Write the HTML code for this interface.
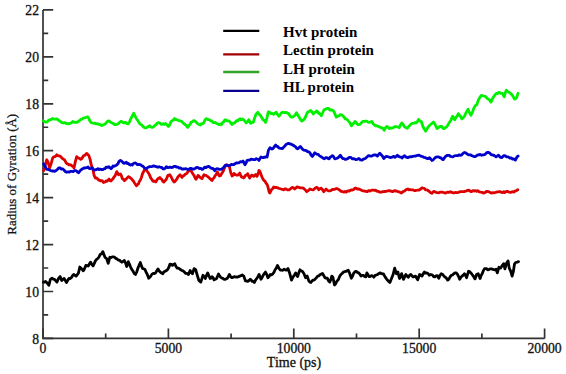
<!DOCTYPE html>
<html><head><meta charset="utf-8"><style>
html,body{margin:0;padding:0;background:#fff;}
body{width:566px;height:374px;overflow:hidden;font-family:"Liberation Serif",serif;}
svg{display:block;}
</style></head><body>
<svg width="566" height="374" viewBox="0 0 566 374"><path d="M43.0,9.95 L43.0,338.4 L544.6,338.4" fill="none" stroke="#333" stroke-width="1.7"/>
<path d="M43.0,338.40 h10.2 M43.0,314.94 h5.2 M43.0,291.48 h10.2 M43.0,268.02 h5.2 M43.0,244.56 h10.2 M43.0,221.10 h5.2 M43.0,197.64 h10.2 M43.0,174.17 h5.2 M43.0,150.71 h10.2 M43.0,127.25 h5.2 M43.0,103.79 h10.2 M43.0,80.33 h5.2 M43.0,56.87 h10.2 M43.0,33.41 h5.2 M43.0,9.95 h10.2 M43.00,338.4 v-9.8 M105.70,338.4 v-5 M168.40,338.4 v-9.8 M231.10,338.4 v-5 M293.80,338.4 v-9.8 M356.50,338.4 v-5 M419.20,338.4 v-9.8 M481.90,338.4 v-5 M544.60,338.4 v-9.8" fill="none" stroke="#333" stroke-width="1.7"/>
<g font-family="Liberation Serif" font-size="13.7" fill="#111" stroke="#111" stroke-width="0.3"><text transform="translate(39.0,343.70) scale(1,1.06)" text-anchor="end">8</text><text transform="translate(39.0,296.78) scale(1,1.06)" text-anchor="end">10</text><text transform="translate(39.0,249.86) scale(1,1.06)" text-anchor="end">12</text><text transform="translate(39.0,202.94) scale(1,1.06)" text-anchor="end">14</text><text transform="translate(39.0,156.01) scale(1,1.06)" text-anchor="end">16</text><text transform="translate(39.0,109.09) scale(1,1.06)" text-anchor="end">18</text><text transform="translate(39.0,62.17) scale(1,1.06)" text-anchor="end">20</text><text transform="translate(39.0,15.25) scale(1,1.06)" text-anchor="end">22</text><text transform="translate(43.00,353.3) scale(1,1.08)" text-anchor="middle">0</text><text transform="translate(168.40,353.3) scale(1,1.08)" text-anchor="middle">5000</text><text transform="translate(293.80,353.3) scale(1,1.08)" text-anchor="middle">10000</text><text transform="translate(419.20,353.3) scale(1,1.08)" text-anchor="middle">15000</text><text transform="translate(544.60,353.3) scale(1,1.08)" text-anchor="middle">20000</text></g>
<text x="294" y="366.7" text-anchor="middle" font-family="Liberation Serif" font-size="14" fill="#111" stroke="#111" stroke-width="0.3">Time (ps)</text>
<text transform="translate(16.2,174.3) rotate(-90)" text-anchor="middle" font-family="Liberation Serif" font-size="13" fill="#111" stroke="#111" stroke-width="0.25">Radius of Gyration (Å)</text>
<path d="M43.5,282.1 L44.5,282.2 L45.6,281.4 L47.2,283.0 L48.8,285.3 L50.4,279.3 L52.0,278.2 L53.2,279.1 L54.4,279.3 L55.6,280.6 L56.9,282.1 L58.5,278.5 L60.1,276.6 L61.7,280.5 L62.9,279.2 L64.1,278.5 L65.3,280.5 L66.5,282.5 L67.7,280.4 L68.9,278.5 L70.1,278.5 L71.3,277.7 L72.5,275.8 L73.7,274.5 L74.9,275.3 L76.1,276.1 L77.3,274.6 L78.5,272.9 L79.8,267.0 L81.4,268.6 L83.3,270.8 L84.5,268.7 L85.8,265.4 L87.0,265.7 L88.2,266.0 L89.4,263.8 L90.6,262.2 L91.8,264.5 L93.0,266.0 L94.2,263.6 L95.4,260.9 L96.6,259.4 L97.8,258.5 L99.0,257.0 L100.2,254.4 L101.6,253.7 L102.9,251.6 L104.0,254.9 L105.0,257.3 L106.6,258.5 L108.2,263.3 L109.8,257.3 L111.0,257.7 L112.2,256.9 L113.4,256.8 L114.6,257.3 L115.8,258.4 L117.0,258.9 L118.2,260.1 L119.4,260.1 L120.7,261.4 L121.9,262.2 L123.1,261.3 L124.3,260.5 L125.5,262.9 L126.7,266.5 L128.3,261.7 L129.5,264.4 L130.7,267.3 L131.9,269.5 L133.1,271.3 L134.3,273.5 L135.5,274.5 L136.7,272.0 L137.9,268.1 L139.1,265.3 L140.3,262.5 L141.5,266.1 L142.7,268.6 L143.9,268.8 L145.1,269.7 L146.1,272.3 L147.1,274.0 L148.7,278.2 L149.8,277.2 L150.8,276.1 L152.0,274.1 L153.2,273.4 L154.4,273.5 L155.6,272.9 L156.8,270.8 L158.0,268.9 L159.2,271.0 L160.4,272.1 L161.6,273.1 L162.8,273.7 L164.0,271.8 L165.2,271.3 L166.4,270.5 L167.6,269.7 L168.8,267.4 L170.0,264.1 L171.2,264.4 L172.4,265.4 L173.6,264.4 L174.8,263.8 L176.0,266.5 L177.2,268.1 L178.4,268.1 L179.6,268.9 L180.8,269.8 L182.0,270.5 L183.2,270.9 L184.4,272.1 L185.7,273.4 L186.9,273.4 L188.5,274.5 L190.1,270.5 L191.3,272.5 L192.5,273.7 L194.1,268.6 L195.7,269.7 L197.3,275.3 L198.9,280.5 L200.8,282.1 L201.9,278.6 L202.9,275.3 L204.1,276.3 L205.3,278.5 L206.5,275.4 L207.7,272.9 L208.9,275.7 L210.1,278.5 L211.1,278.2 L212.1,276.6 L213.1,277.7 L214.1,279.8 L215.3,279.2 L216.6,278.5 L218.5,274.0 L219.6,275.9 L220.6,277.2 L221.8,277.9 L223.0,278.5 L224.2,279.3 L225.4,279.3 L226.4,278.8 L227.5,278.2 L229.4,274.5 L230.6,276.7 L231.8,277.7 L233.0,277.3 L234.2,276.6 L235.8,277.0 L237.4,277.2 L238.6,276.6 L239.8,276.1 L241.0,275.7 L242.2,275.0 L243.8,276.1 L245.4,280.9 L246.6,281.0 L247.8,281.4 L249.1,280.5 L250.3,279.3 L251.3,280.1 L252.3,281.4 L253.3,281.5 L254.3,282.5 L255.5,280.1 L256.7,278.5 L257.9,276.7 L259.1,274.5 L261.0,279.3 L262.1,277.5 L263.1,275.3 L264.3,273.7 L265.5,272.1 L266.7,274.3 L267.9,277.7 L269.1,276.5 L270.3,274.5 L271.5,274.8 L272.7,274.0 L273.9,272.4 L275.1,269.7 L276.3,268.0 L277.5,265.4 L279.1,268.6 L280.4,270.0 L281.6,270.2 L282.8,270.3 L284.0,269.2 L285.2,269.8 L286.4,270.2 L288.0,268.6 L289.6,272.9 L291.5,280.1 L292.6,277.9 L293.6,276.1 L294.6,274.8 L295.7,272.9 L297.6,276.6 L298.8,272.8 L300.0,269.7 L301.2,270.9 L302.4,271.3 L304.0,273.7 L305.6,277.7 L307.2,276.1 L308.8,280.9 L309.9,282.2 L310.9,282.5 L312.8,280.1 L314.1,280.1 L315.3,278.9 L316.5,277.6 L317.7,276.1 L318.9,275.9 L320.1,274.5 L321.3,274.1 L322.5,273.4 L323.7,275.5 L324.9,277.7 L326.1,278.2 L327.3,278.2 L328.5,280.8 L329.7,282.1 L330.8,279.7 L331.8,276.1 L332.9,277.2 L334.5,285.0 L335.6,283.8 L336.6,281.7 L338.5,279.3 L339.7,276.3 L340.9,274.5 L342.1,273.5 L343.3,272.1 L344.6,271.7 L345.8,271.3 L347.0,270.9 L348.2,270.2 L349.8,273.7 L351.4,278.2 L352.6,276.0 L353.8,272.9 L355.0,271.7 L356.2,271.3 L357.4,272.4 L358.6,272.9 L359.8,274.0 L361.0,276.1 L362.2,275.3 L363.4,275.3 L364.6,276.5 L365.8,276.9 L366.9,272.9 L367.9,274.5 L369.0,276.6 L370.2,276.5 L371.4,275.6 L372.6,275.8 L373.8,277.2 L375.0,275.6 L376.2,275.0 L377.4,274.6 L378.6,273.7 L379.9,272.9 L381.1,273.4 L382.3,273.8 L383.5,274.0 L385.1,276.9 L386.7,279.3 L388.3,280.9 L389.9,282.5 L391.5,278.5 L393.1,274.5 L394.7,268.1 L396.3,273.7 L397.9,272.1 L399.5,278.5 L400.6,276.7 L401.6,273.7 L403.5,279.3 L404.7,276.9 L405.9,274.5 L407.1,276.1 L408.3,277.2 L409.6,275.2 L410.8,274.5 L412.0,275.9 L413.2,276.9 L414.4,276.6 L415.6,276.1 L416.6,278.1 L417.7,279.8 L419.6,274.5 L420.8,275.1 L422.0,276.1 L423.2,273.9 L424.4,272.1 L425.6,273.2 L426.8,272.9 L428.0,273.5 L429.2,275.3 L430.8,274.5 L432.4,275.0 L433.6,276.6 L434.8,276.9 L436.0,275.8 L437.2,275.6 L438.8,278.2 L440.0,275.4 L441.2,273.7 L442.4,274.2 L443.6,275.6 L444.9,277.1 L446.1,277.7 L447.7,280.1 L448.9,279.1 L450.1,276.9 L451.3,275.3 L452.5,275.0 L453.7,273.8 L454.9,272.9 L456.1,272.9 L457.3,274.0 L458.5,276.3 L459.7,279.3 L460.9,277.3 L462.1,276.1 L463.3,275.1 L464.5,273.7 L465.6,275.5 L466.6,277.7 L468.5,271.3 L469.7,271.7 L470.9,272.9 L472.1,274.5 L473.3,276.1 L475.0,278.9 L476.6,274.5 L478.2,273.7 L480.1,278.5 L481.1,275.5 L482.2,273.7 L483.4,270.6 L484.6,268.6 L486.4,268.6 L487.6,269.8 L488.8,269.7 L490.0,268.9 L491.2,268.9 L492.4,269.1 L493.6,269.7 L494.8,269.8 L496.0,269.2 L497.3,272.9 L498.9,267.3 L500.5,268.1 L502.1,265.7 L503.7,263.7 L504.9,268.9 L506.5,263.3 L508.1,260.9 L509.2,268.1 L510.8,271.3 L512.1,276.1 L513.4,271.3 L514.5,264.1 L515.6,262.5 L517.2,262.1 L518.5,261.7" fill="none" stroke="#000" stroke-width="2.8" stroke-linejoin="round" stroke-linecap="round"/>
<path d="M43.7,170.7 L45.3,164.7 L46.7,159.8 L48.0,162.0 L49.6,168.0 L51.4,162.7 L52.7,158.0 L53.7,156.8 L54.7,156.7 L55.7,156.2 L56.7,154.7 L57.7,155.6 L58.7,155.8 L59.7,155.9 L60.7,156.7 L61.7,157.7 L62.7,158.7 L63.7,159.3 L64.7,160.0 L66.0,162.7 L67.0,163.6 L68.0,164.0 L69.0,164.8 L70.0,164.7 L71.0,164.8 L72.0,166.0 L73.0,166.3 L74.0,168.0 L75.4,161.4 L76.7,156.7 L77.7,157.8 L78.7,158.0 L79.7,158.6 L80.7,159.4 L81.7,158.6 L82.7,157.1 L83.7,155.6 L84.7,155.4 L85.8,154.3 L86.8,153.4 L87.8,154.7 L88.8,155.4 L90.1,159.4 L91.4,165.4 L92.8,168.7 L94.1,175.4 L95.4,178.1 L96.4,178.0 L97.4,178.7 L98.4,180.0 L99.4,180.0 L100.4,180.9 L101.4,180.7 L102.5,180.9 L103.5,182.5 L105.0,182.0 L106.0,181.0 L107.0,181.4 L108.0,180.3 L109.0,179.1 L110.0,180.7 L111.0,181.0 L112.0,179.7 L113.0,178.7 L114.0,177.0 L115.0,176.0 L116.8,171.6 L118.4,174.7 L119.4,174.2 L120.4,174.0 L121.4,175.7 L122.4,178.7 L123.4,179.3 L124.4,180.7 L125.4,179.6 L126.4,178.7 L127.4,177.7 L128.4,176.7 L129.4,177.0 L130.4,178.0 L131.4,178.6 L132.4,180.0 L133.4,181.0 L134.4,182.7 L135.4,184.2 L136.4,185.8 L137.4,184.6 L138.4,184.0 L139.4,181.3 L140.4,180.0 L141.4,177.5 L142.4,174.0 L143.4,172.0 L144.4,169.8 L145.7,168.7 L146.7,170.5 L147.7,172.0 L148.7,173.3 L149.7,175.4 L150.8,178.1 L151.8,179.4 L152.8,180.9 L153.8,181.4 L154.8,181.2 L155.8,182.0 L156.8,180.1 L157.8,178.7 L158.8,178.4 L159.8,177.4 L160.8,178.7 L161.8,179.4 L162.8,181.3 L163.8,182.0 L164.8,180.9 L165.8,180.0 L166.8,178.2 L167.8,175.4 L168.8,175.3 L169.8,174.7 L170.9,176.4 L172.0,178.7 L173.0,180.5 L174.0,182.0 L175.0,181.5 L176.0,180.0 L177.0,178.8 L178.0,176.7 L179.0,175.7 L180.0,174.7 L181.0,176.2 L182.0,177.4 L183.0,175.8 L184.0,175.6 L185.0,174.4 L186.0,174.0 L187.0,173.2 L188.0,171.6 L189.0,170.7 L190.0,170.0 L191.0,170.7 L192.0,172.4 L193.0,174.0 L194.0,175.4 L195.0,177.7 L196.0,179.4 L197.0,177.6 L198.0,175.4 L199.0,176.2 L200.0,177.4 L201.0,178.0 L202.0,178.7 L203.0,176.7 L204.0,174.7 L205.0,175.4 L206.0,175.4 L207.0,176.1 L208.0,176.7 L209.0,177.6 L210.0,178.7 L211.0,179.6 L212.0,180.5 L213.0,178.6 L214.0,178.0 L215.0,175.7 L216.0,174.7 L217.4,172.0 L218.4,174.3 L219.4,176.0 L220.4,175.7 L221.4,174.0 L222.4,172.5 L223.4,170.7 L224.4,168.2 L225.4,166.0 L226.4,165.0 L227.4,165.0 L228.4,165.9 L229.4,166.7 L230.8,172.7 L232.1,176.0 L233.1,175.4 L234.1,173.4 L235.0,174.4 L236.3,175.1 L237.7,175.1 L238.7,174.2 L239.7,173.1 L240.7,175.6 L241.7,177.1 L242.7,177.2 L243.7,178.0 L244.7,176.6 L245.7,175.1 L246.7,175.0 L247.7,173.7 L248.7,176.0 L249.7,178.0 L250.7,176.5 L251.7,175.1 L252.7,175.4 L253.7,176.4 L254.7,175.5 L255.7,174.4 L257.0,176.4 L258.0,174.0 L259.0,170.4 L260.0,171.7 L261.0,174.4 L262.0,177.1 L263.0,179.1 L264.0,180.5 L265.0,181.1 L266.1,183.3 L267.1,184.4 L267.9,186.6 L269.0,191.4 L269.8,193.0 L271.4,189.8 L272.6,188.7 L273.8,186.9 L275.0,187.6 L276.2,187.4 L277.4,187.8 L278.6,188.2 L279.8,188.7 L281.0,189.0 L282.2,189.3 L283.5,189.8 L284.7,188.8 L285.9,189.0 L287.5,189.9 L289.1,189.8 L290.7,188.7 L292.3,187.4 L293.5,187.8 L294.7,189.0 L295.9,188.0 L297.1,186.9 L298.7,187.3 L300.3,187.8 L301.9,187.8 L303.5,188.2 L305.1,189.7 L306.7,191.7 L307.8,190.9 L308.9,190.1 L310.0,189.0 L311.6,189.6 L313.2,189.8 L314.8,188.5 L316.4,187.4 L317.6,187.9 L318.8,189.8 L320.0,188.6 L321.2,188.2 L322.4,189.5 L323.6,191.7 L324.8,190.5 L326.0,189.0 L327.6,190.5 L329.2,191.0 L330.8,190.6 L332.4,189.4 L333.7,189.5 L335.1,189.2 L336.4,188.5 L338.0,189.0 L339.6,190.1 L341.2,191.4 L342.8,191.7 L343.9,192.1 L345.0,191.4 L346.1,192.2 L347.7,190.9 L349.3,191.0 L350.9,189.9 L352.5,190.1 L353.7,189.5 L354.9,188.2 L356.1,188.2 L357.3,189.0 L358.9,188.9 L360.5,189.8 L362.1,190.6 L363.7,191.0 L365.3,191.1 L366.9,191.7 L368.5,190.7 L370.1,191.0 L371.7,190.1 L373.3,190.1 L374.4,190.4 L375.5,190.2 L376.6,191.0 L378.2,191.3 L379.8,192.2 L381.4,192.2 L383.0,191.7 L384.6,191.5 L386.2,191.4 L387.8,190.8 L389.4,190.6 L391.0,191.1 L392.6,191.7 L394.2,190.7 L395.8,191.0 L397.0,191.2 L398.2,191.7 L399.8,192.2 L401.4,193.0 L403.0,191.6 L404.6,191.0 L406.2,189.5 L407.8,189.0 L408.9,189.8 L410.0,189.5 L411.1,189.8 L412.7,189.8 L414.3,190.6 L415.9,190.5 L417.5,190.1 L419.1,190.0 L420.7,189.0 L421.9,187.9 L423.1,188.2 L424.3,188.3 L425.5,189.8 L427.1,189.9 L428.7,191.0 L430.3,192.5 L431.9,193.3 L433.1,191.9 L434.3,191.4 L435.9,192.3 L437.5,192.7 L438.6,192.8 L439.7,192.4 L440.8,192.2 L442.4,192.1 L444.0,192.7 L445.6,193.1 L447.2,192.2 L448.8,192.4 L450.4,191.7 L452.0,192.4 L453.6,193.0 L455.2,192.5 L456.8,192.7 L458.4,192.4 L460.0,191.7 L461.6,191.6 L463.2,191.7 L464.8,191.5 L466.4,191.0 L467.6,190.3 L468.8,190.1 L470.0,191.1 L471.2,191.7 L472.8,190.7 L474.4,191.0 L475.5,190.6 L476.6,191.4 L477.7,190.6 L479.3,191.9 L480.9,192.2 L482.1,192.3 L483.3,193.0 L484.9,192.7 L486.5,191.4 L488.1,191.5 L489.7,192.2 L491.3,193.1 L492.9,192.7 L494.5,192.8 L496.1,192.2 L497.7,191.8 L499.3,191.7 L500.9,191.9 L502.5,192.7 L503.6,191.7 L504.7,192.6 L505.8,191.7 L507.4,191.3 L509.0,192.2 L510.6,192.4 L512.2,191.7 L513.8,192.0 L515.4,191.0 L516.6,190.5 L517.8,189.8" fill="none" stroke="#dd0000" stroke-width="2.8" stroke-linejoin="round" stroke-linecap="round"/>
<path d="M43.5,120.8 L44.7,121.8 L45.8,122.2 L47.0,122.0 L48.4,120.5 L49.7,119.7 L51.0,119.8 L52.4,118.5 L53.7,119.1 L55.0,119.2 L56.4,118.9 L57.7,119.4 L59.1,120.6 L60.6,121.7 L62.0,122.6 L63.3,123.0 L64.5,122.6 L65.8,123.3 L67.0,123.5 L68.3,123.9 L69.8,123.4 L71.2,123.0 L72.7,121.5 L74.1,122.4 L75.6,122.2 L77.0,122.4 L78.3,121.5 L79.7,120.4 L81.1,119.2 L82.4,119.0 L83.7,117.8 L85.1,117.9 L86.4,117.1 L87.7,116.8 L88.9,118.6 L90.0,121.2 L91.2,122.6 L92.5,123.0 L93.8,123.3 L95.2,123.2 L96.5,123.9 L97.8,123.7 L99.2,124.5 L100.5,124.7 L101.8,125.6 L103.2,124.7 L104.6,124.4 L106.1,123.0 L107.5,121.3 L108.9,120.8 L110.3,122.1 L111.7,122.8 L113.2,123.5 L114.6,124.5 L116.0,124.7 L117.3,124.2 L118.7,123.4 L120.0,121.9 L121.3,121.2 L122.7,122.4 L124.1,122.9 L125.5,122.3 L126.9,123.7 L128.3,123.9 L129.6,121.6 L130.9,118.5 L132.3,116.0 L133.6,113.3 L134.9,115.6 L136.3,118.5 L137.7,120.3 L139.0,122.6 L140.2,124.2 L141.5,124.7 L142.7,126.1 L143.9,127.2 L145.0,127.9 L146.2,127.9 L147.4,127.1 L148.5,126.5 L149.7,125.6 L151.1,127.1 L152.4,127.4 L153.6,126.8 L154.7,125.6 L155.9,124.7 L157.2,123.3 L158.6,122.6 L159.8,123.0 L160.9,124.1 L162.1,124.4 L163.3,123.6 L164.4,124.4 L165.6,123.5 L166.9,124.7 L168.3,126.5 L169.5,125.2 L170.6,122.4 L171.8,120.8 L173.2,120.3 L174.5,118.6 L175.7,119.5 L176.8,119.7 L178.0,120.3 L179.2,120.6 L180.3,121.1 L181.5,121.2 L182.8,122.7 L184.2,123.9 L185.4,124.8 L186.5,125.8 L187.7,127.4 L188.9,125.6 L190.0,124.5 L191.2,122.1 L192.4,121.8 L193.6,120.6 L194.8,120.8 L196.3,122.5 L197.7,123.7 L199.2,124.7 L200.4,125.0 L201.5,123.7 L202.7,123.9 L203.9,122.5 L205.1,119.7 L206.3,118.6 L207.8,119.5 L209.2,119.7 L210.7,120.8 L211.9,121.0 L213.0,122.5 L214.2,122.6 L215.4,122.5 L216.5,123.5 L217.7,123.9 L218.9,124.7 L220.1,124.1 L221.3,124.7 L222.5,122.7 L223.6,122.0 L224.8,119.8 L226.0,120.0 L227.1,120.8 L228.3,120.8 L229.5,121.3 L230.7,123.0 L231.9,124.4 L233.1,123.2 L234.2,123.1 L235.4,122.1 L236.6,120.6 L237.7,120.9 L238.9,119.4 L240.1,118.8 L241.2,119.9 L242.3,119.0 L243.5,119.7 L244.8,121.0 L246.2,122.9 L247.5,121.7 L248.8,119.7 L250.6,123.3 L251.9,122.4 L253.3,122.4 L254.6,118.0 L255.9,114.4 L257.7,112.3 L259.0,114.1 L260.3,115.3 L261.6,117.3 L263.0,119.7 L264.3,120.4 L265.6,122.4 L267.0,117.8 L268.3,111.8 L269.6,112.2 L270.9,113.6 L272.2,113.4 L273.6,114.4 L274.9,113.1 L276.2,112.3 L277.5,114.4 L278.9,116.2 L280.2,114.8 L281.5,112.7 L282.7,112.2 L283.9,112.5 L285.1,112.7 L286.3,112.3 L287.4,113.2 L288.6,113.6 L289.9,115.7 L291.2,117.1 L292.5,117.0 L293.9,116.2 L295.2,115.0 L296.5,112.7 L297.9,115.3 L299.2,117.1 L300.5,119.6 L301.8,121.1 L303.1,120.3 L304.5,118.9 L305.7,116.5 L306.8,113.8 L308.0,111.8 L309.4,111.4 L310.7,110.5 L312.0,112.0 L313.3,114.1 L314.5,112.5 L315.7,111.9 L316.9,110.9 L318.4,113.1 L319.8,113.6 L321.3,115.8 L322.6,113.0 L323.9,110.0 L325.1,109.3 L326.3,108.9 L327.5,108.3 L328.7,108.4 L329.8,110.1 L331.0,110.0 L332.3,110.1 L333.6,110.9 L335.0,114.1 L336.3,117.1 L337.6,116.3 L338.9,115.8 L340.4,114.6 L341.8,114.8 L343.0,116.2 L344.1,117.0 L345.3,118.9 L346.5,119.1 L347.6,120.0 L348.8,121.5 L350.1,123.2 L351.5,125.9 L352.7,123.9 L353.8,123.2 L355.0,121.5 L356.2,122.6 L357.4,124.3 L358.6,124.7 L359.8,124.4 L360.9,123.5 L362.1,121.9 L363.3,121.3 L364.4,121.3 L365.6,121.1 L366.8,121.2 L368.0,122.1 L369.2,122.4 L370.5,122.1 L371.8,121.5 L373.1,123.7 L374.5,125.0 L375.7,125.8 L376.8,125.6 L378.0,126.4 L379.2,126.7 L380.3,127.3 L381.5,127.7 L382.9,128.3 L384.2,130.3 L385.5,127.7 L386.8,126.4 L388.1,127.4 L389.5,128.6 L390.7,127.8 L391.8,128.3 L393.0,127.7 L394.2,127.0 L395.3,126.5 L396.5,126.8 L397.9,126.8 L399.2,127.7 L400.5,124.9 L401.8,122.9 L403.1,124.5 L404.5,126.8 L405.8,127.5 L407.1,128.2 L408.5,126.8 L409.8,125.4 L411.1,124.1 L412.4,123.3 L413.6,123.4 L414.8,122.6 L416.0,122.9 L417.3,121.7 L418.6,119.4 L420.0,121.1 L421.3,121.5 L423.0,126.8 L424.4,129.3 L425.7,131.2 L427.0,128.9 L428.3,126.8 L430.0,125.0 L431.2,124.0 L432.3,123.1 L433.5,122.0 L434.7,123.6 L435.9,126.3 L437.1,128.6 L438.3,127.9 L439.4,126.6 L440.6,126.3 L441.8,126.5 L442.9,128.3 L444.1,128.6 L445.5,127.5 L446.8,126.8 L448.1,124.6 L449.4,122.4 L451.0,119.9 L452.6,116.2 L453.6,118.2 L454.7,119.8 L455.9,117.4 L457.1,116.3 L458.3,113.6 L459.5,115.2 L460.6,116.5 L461.8,118.9 L463.1,117.8 L464.5,116.2 L465.7,113.3 L466.8,111.3 L468.0,109.2 L469.5,112.7 L471.0,115.3 L472.6,111.6 L474.2,107.4 L475.5,105.4 L476.8,104.7 L478.6,99.4 L479.9,97.4 L481.2,95.5 L482.4,95.6 L483.6,96.0 L484.8,96.3 L486.0,96.8 L487.1,98.3 L488.3,99.1 L489.6,100.0 L491.0,102.1 L492.3,99.1 L493.6,96.8 L495.0,94.9 L496.3,93.3 L497.5,93.7 L498.6,92.3 L499.8,92.7 L501.1,93.4 L502.4,93.3 L504.2,96.8 L505.2,93.1 L506.3,90.2 L507.9,91.6 L509.5,92.7 L510.9,93.7 L512.2,95.0 L513.4,97.0 L514.5,99.1 L515.5,98.8 L516.6,97.7 L518.0,93.3" fill="none" stroke="#00f000" stroke-width="2.8" stroke-linejoin="round" stroke-linecap="round"/>
<path d="M43.7,164.0 L45.0,166.0 L46.7,169.4 L48.0,169.3 L49.4,170.0 L50.7,170.6 L52.0,171.0 L53.4,171.0 L54.7,171.4 L55.7,170.8 L56.7,170.0 L57.7,169.2 L58.7,168.0 L60.0,167.9 L61.4,169.1 L62.7,168.9 L64.0,170.0 L65.3,171.6 L66.7,172.3 L68.1,171.8 L69.4,172.0 L70.7,171.3 L72.0,171.4 L73.3,171.6 L74.7,170.5 L75.7,170.7 L76.7,171.0 L77.7,172.3 L78.7,172.7 L79.7,171.3 L80.7,170.0 L81.7,169.5 L82.7,168.7 L84.1,167.9 L85.4,168.0 L86.8,167.7 L88.1,167.0 L89.1,168.4 L90.1,168.7 L91.1,168.3 L92.1,167.8 L93.1,169.2 L94.1,170.0 L95.4,169.9 L96.8,169.4 L97.9,168.7 L99.0,169.6 L100.1,169.1 L101.4,169.5 L102.8,169.7 L103.9,168.9 L105.0,168.7 L106.0,167.2 L107.0,167.1 L108.0,167.4 L109.0,166.7 L110.0,167.7 L111.0,168.7 L112.0,167.7 L113.0,166.0 L114.0,166.4 L115.0,165.8 L116.0,165.5 L117.0,164.7 L118.0,163.6 L119.0,161.4 L120.4,160.4 L121.4,161.0 L122.4,161.8 L123.4,163.0 L124.4,163.4 L125.4,162.8 L126.4,162.3 L127.4,163.5 L128.4,163.4 L129.4,164.7 L130.4,165.0 L131.4,164.4 L132.4,165.0 L133.4,163.5 L134.4,163.1 L135.4,163.0 L136.4,163.6 L137.4,164.7 L138.4,164.4 L139.4,164.5 L140.4,164.7 L141.4,165.5 L142.4,166.0 L143.4,166.7 L144.4,168.0 L145.4,168.4 L146.4,168.7 L147.4,167.7 L148.4,167.1 L149.8,166.7 L151.1,166.7 L152.4,166.4 L153.8,165.8 L155.1,166.4 L156.4,166.7 L157.8,167.3 L159.1,166.7 L160.4,167.3 L161.8,167.4 L162.8,168.8 L163.8,169.0 L165.1,168.3 L166.4,166.7 L167.8,167.7 L169.1,167.4 L170.0,167.1 L171.3,167.5 L172.7,167.4 L174.0,166.4 L175.3,166.3 L176.7,167.2 L178.0,167.1 L179.3,168.2 L180.7,168.0 L182.1,169.1 L183.4,169.0 L184.7,168.9 L186.0,168.7 L187.3,169.3 L188.7,169.4 L190.1,168.5 L191.4,168.4 L192.7,169.2 L194.0,169.0 L195.3,168.3 L196.7,167.4 L198.1,167.7 L199.4,168.7 L200.8,168.4 L202.1,169.4 L203.4,168.7 L204.7,167.1 L206.1,167.6 L207.4,166.7 L208.8,166.5 L210.1,167.4 L211.4,168.3 L212.7,168.4 L213.8,169.4 L214.8,170.7 L215.8,169.2 L216.8,168.7 L218.1,168.8 L219.4,169.4 L220.8,169.4 L222.1,168.7 L223.4,167.8 L224.8,165.8 L226.1,165.0 L227.4,165.4 L228.8,165.6 L230.1,165.4 L231.4,164.4 L232.8,164.7 L233.9,164.5 L235.0,163.7 L236.3,163.0 L237.7,162.8 L239.0,162.8 L240.3,161.7 L241.7,162.0 L243.0,161.0 L244.0,162.9 L245.0,164.7 L246.0,163.3 L247.0,160.6 L248.3,160.1 L249.7,160.1 L251.1,159.1 L252.4,159.3 L253.7,159.6 L255.0,159.7 L256.0,158.7 L257.0,159.0 L258.0,159.3 L259.0,160.4 L260.0,158.6 L261.0,157.0 L262.0,157.5 L263.0,157.7 L264.0,157.1 L265.0,157.4 L266.1,156.6 L267.1,157.0 L268.4,150.4 L270.0,147.7 L271.7,149.0 L272.7,148.9 L273.7,147.7 L274.7,146.1 L275.7,145.0 L276.7,146.3 L277.7,146.4 L279.0,148.0 L280.4,148.4 L281.4,148.3 L282.4,148.6 L283.4,147.4 L284.4,146.4 L285.4,145.3 L286.4,144.1 L287.4,143.9 L288.4,143.3 L289.5,143.8 L290.7,144.0 L291.9,144.6 L293.1,145.1 L294.3,146.1 L295.5,146.7 L296.7,148.4 L297.9,148.8 L299.1,147.6 L300.3,146.4 L301.5,147.8 L302.7,149.3 L303.9,150.2 L305.1,150.4 L306.3,150.6 L307.5,151.6 L308.8,151.9 L310.0,152.8 L311.2,155.3 L312.4,156.4 L313.6,154.6 L314.8,152.8 L316.0,153.7 L317.2,154.4 L318.4,154.5 L319.6,156.0 L320.8,156.5 L322.0,157.3 L323.2,158.2 L324.4,158.9 L325.6,157.6 L326.8,157.7 L328.0,158.5 L329.2,158.9 L330.0,157.3 L331.2,156.7 L332.4,155.7 L333.6,156.7 L334.8,158.9 L336.4,158.5 L338.0,157.7 L339.2,156.5 L340.4,155.3 L341.6,157.2 L342.8,158.5 L343.9,158.6 L345.0,159.3 L346.1,159.3 L347.7,158.6 L349.3,157.3 L350.9,157.4 L352.5,158.9 L354.1,158.6 L355.7,159.6 L357.3,159.3 L358.9,158.5 L360.5,159.9 L362.1,160.1 L363.7,159.0 L365.3,158.5 L366.9,157.0 L368.5,155.7 L370.1,156.0 L371.7,156.1 L372.8,155.4 L373.9,155.0 L375.0,154.8 L376.2,155.2 L377.4,156.1 L378.6,154.5 L379.8,153.2 L381.0,154.6 L382.2,155.7 L383.8,158.5 L385.0,157.2 L386.2,156.4 L387.8,156.7 L389.4,157.3 L391.0,157.5 L392.6,156.9 L393.8,156.4 L395.0,157.3 L396.2,156.4 L397.4,155.3 L398.6,156.4 L399.8,156.9 L401.0,157.2 L402.2,158.0 L403.4,156.5 L404.6,155.7 L406.2,157.1 L407.8,157.7 L408.9,157.1 L410.0,156.7 L411.1,156.9 L412.7,156.4 L414.3,156.1 L415.9,156.0 L417.5,155.3 L419.1,155.1 L420.7,156.1 L422.3,156.5 L423.9,157.3 L425.5,157.7 L427.1,158.5 L428.3,158.6 L429.5,157.7 L430.7,159.0 L431.9,160.5 L433.1,160.0 L434.3,158.5 L435.9,157.2 L437.5,156.9 L438.6,156.9 L439.7,157.6 L440.8,157.7 L442.0,159.2 L443.2,159.6 L444.4,157.9 L445.6,156.4 L446.8,155.5 L448.0,155.3 L449.2,155.3 L450.4,156.4 L451.6,156.7 L452.8,156.9 L454.4,155.9 L456.0,155.7 L457.6,155.7 L459.2,154.8 L460.0,155.3 L461.2,155.2 L462.4,154.1 L463.6,152.9 L464.8,152.5 L466.0,153.0 L467.2,154.1 L468.8,154.9 L470.4,154.8 L472.0,155.8 L473.6,156.4 L474.9,156.7 L476.1,156.1 L477.3,155.2 L478.5,154.8 L480.1,154.5 L481.7,155.3 L482.9,154.8 L484.1,154.8 L485.3,154.2 L486.5,152.8 L487.7,152.3 L488.9,152.5 L490.1,153.4 L491.3,154.8 L492.5,154.9 L493.7,155.3 L494.9,156.0 L496.1,156.9 L497.3,156.0 L498.5,155.3 L500.1,157.1 L501.7,157.7 L502.8,156.6 L503.9,155.7 L505.0,155.7 L506.6,156.9 L508.2,156.9 L509.8,158.0 L511.4,158.0 L512.6,159.1 L513.8,158.9 L515.4,160.1 L517.0,156.9 L518.1,156.1" fill="none" stroke="#0000cc" stroke-width="2.8" stroke-linejoin="round" stroke-linecap="round"/>
<path d="M223.2,30.9 H259.3" stroke="#000" stroke-width="2.3"/>
<text x="283" y="37.2" font-family="Liberation Serif" font-weight="bold" font-size="15" fill="#000">Hvt protein</text>
<path d="M223.2,54.4 H259.3" stroke="#a00000" stroke-width="2.3"/>
<text x="283" y="55.4" font-family="Liberation Serif" font-weight="bold" font-size="15" fill="#000">Lectin protein</text>
<path d="M223.2,72.0 H259.3" stroke="#34a428" stroke-width="2.3"/>
<text x="283" y="73.6" font-family="Liberation Serif" font-weight="bold" font-size="15" fill="#000">LH protein</text>
<path d="M223.2,90.9 H259.3" stroke="#0a008c" stroke-width="2.3"/>
<text x="283" y="91.7" font-family="Liberation Serif" font-weight="bold" font-size="15" fill="#000">HL protein</text></svg>
</body></html>
